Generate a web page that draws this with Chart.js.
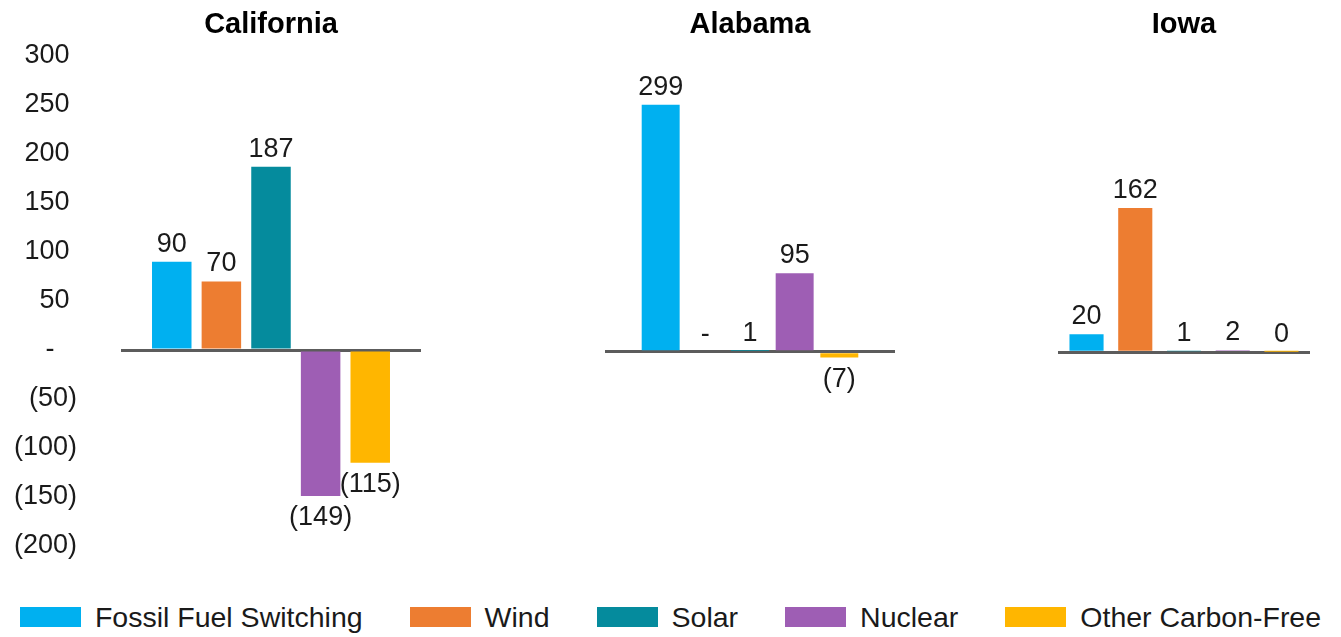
<!DOCTYPE html>
<html>
<head>
<meta charset="utf-8">
<script src="https://cdn.jsdelivr.net/npm/chart.js@4.4.1/dist/chart.umd.min.js"></script>
<style>
  html, body { margin: 0; padding: 0; background: #fff; }
  #wrap { position: relative; width: 1341px; height: 637px; overflow: hidden;
          font-family: "Liberation Sans", Arial, sans-serif; }
  #wrap canvas { position: absolute; top: 0; }
  #legend { position: absolute; left: 0; top: 602px; width: 1341px; height: 30px;
            display: flex; justify-content: center; align-items: center; gap: 47px; }
  .item { display: flex; align-items: center; white-space: nowrap; }
  .sw { width: 61px; height: 20px; margin-right: 14px; }
  .lbl { font-size: 28.5px; line-height: 30px; color: #1a1a1a; }
</style>
</head>
<body>
<div id="wrap">
  <canvas id="panel-ca" width="440" height="590" style="left:0"></canvas>
  <canvas id="panel-al" width="290" height="590" style="left:605px"></canvas>
  <canvas id="panel-ia" width="252" height="590" style="left:1058px"></canvas>
  <div id="legend"></div>
</div>
<script>
// Change in carbon-free / switching contributions by state
const series = ['Fossil Fuel Switching', 'Wind', 'Solar', 'Nuclear', 'Other Carbon-Free'];
const seriesColors = ['#00B0F0', '#ED7D31', '#058B9D', '#9E5EB4', '#FFB600'];

const states = ['California', 'Alabama', 'Iowa'];
const california = [90, 70, 187, -149, -115];
const alabama = [299, 0, 1, 95, -7];
const iowa = [20, 162, 1, 2, 0.3];

// left axis (California panel)
const axisTicks = [300, 250, 200, 150, 100, 50, 0, -50, -100, -150, -200];

const FONT = '"Liberation Sans", Arial, sans-serif';
const TEXT = '#1a1a1a';

// accounting-style number: 0 -> "-", negatives in parentheses
function fmt(v) {
  if (v === 0) return '-';
  const n = Math.round(Math.abs(v));
  return v < 0 ? '(' + n + ')' : String(n);
}

function axisLabel(v) {
  if (v === 0) return '-   ';
  return v < 0 ? '(' + Math.abs(v) + ')' : v + ' ';
}

// value labels above positive bars, below negative ones
const valueLabels = {
  id: 'valueLabels',
  afterDatasetsDraw(chart) {
    const ctx = chart.ctx;
    ctx.save();
    ctx.font = '27px ' + FONT;
    ctx.fillStyle = TEXT;
    ctx.textAlign = 'center';
    ctx.textBaseline = 'alphabetic';
    chart.data.datasets.forEach((ds, i) => {
      const bar = chart.getDatasetMeta(i).data[0];
      const v = ds.data[0];
      const y = v < 0 ? bar.y + 29 : bar.y - 10;
      ctx.fillText(fmt(v), bar.x, y);
    });
    ctx.restore();
  }
};

function makePanel(canvasId, title, values, cfg) {
  const datasets = series.map((name, i) => ({
    label: name,
    data: [values[i]],
    backgroundColor: seriesColors[i],
    borderWidth: 0,
    categoryPercentage: cfg.cat,
    barPercentage: cfg.bar
  }));
  const tickValues = cfg.showAxis ? axisTicks : [0];
  return new Chart(document.getElementById(canvasId), {
    type: 'bar',
    data: { labels: [title], datasets },
    plugins: [valueLabels],
    options: {
      responsive: false,
      animation: false,
      events: [],
      layout: { padding: { left: 0, right: cfg.padRight, top: 0, bottom: 44 } },
      plugins: {
        legend: { display: false },
        tooltip: { enabled: false },
        title: {
          display: true,
          text: title,
          fullSize: false,
          color: '#000',
          font: { family: FONT, size: 29, weight: 'bold', lineHeight: 1.2 },
          padding: { top: 8, bottom: 13.2 }
        }
      },
      scales: {
        x: { display: false },
        y: {
          min: cfg.min,
          max: cfg.max,
          z: 1,
          border: { display: false },
          grid: {
            drawTicks: true,
            tickLength: 40,
            tickColor: 'rgba(0,0,0,0)',
            lineWidth: 3,
            color: c => (c.tick && c.tick.value === 0 ? '#5c5c5c' : 'rgba(0,0,0,0)')
          },
          ticks: {
            display: cfg.showAxis,
            padding: 4,
            color: TEXT,
            font: { family: FONT, size: 27 },
            callback: v => axisLabel(v)
          },
          afterBuildTicks: s => { s.ticks = tickValues.map(v => ({ value: v })); },
          afterFit: s => { s.width = cfg.showAxis ? 121 : 0; }
        }
      }
    }
  });
}

makePanel('panel-ca', states[0], california,
  { min: -200, max: 300, showAxis: true, padRight: 19, cat: 0.827, bar: 0.796 });
makePanel('panel-al', states[1], alabama,
  { min: -235, max: 358, showAxis: false, padRight: 0, cat: 0.77, bar: 0.85 });
makePanel('panel-ia', states[2], iowa,
  { min: -218, max: 333, showAxis: false, padRight: 0, cat: 0.967, bar: 0.70 });

// shared legend for all three panels
const legend = document.getElementById('legend');
series.forEach((name, i) => {
  const item = document.createElement('div');
  item.className = 'item';
  const sw = document.createElement('span');
  sw.className = 'sw';
  sw.style.background = seriesColors[i];
  const lbl = document.createElement('span');
  lbl.className = 'lbl';
  lbl.textContent = name;
  item.appendChild(sw);
  item.appendChild(lbl);
  legend.appendChild(item);
});
</script>
</body>
</html>
